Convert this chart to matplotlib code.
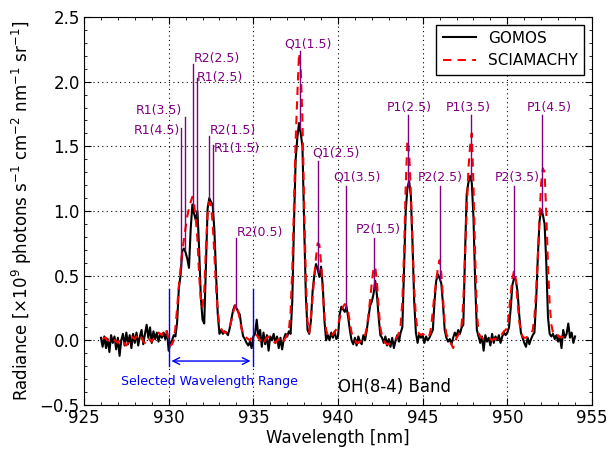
import matplotlib
matplotlib.use('Agg')
import matplotlib.pyplot as plt
from matplotlib.ticker import MultipleLocator
import numpy as np

# GOMOS spectrum, 926.0 .. 954.0 nm, 0.1 nm step
gomos_start, gomos_step = 926.0, 0.1
gomos = [
    0.02, -0.05, 0.03, -0.06, 0.01, -0.09, 0.04, -0.02, 0.03, -0.07,
    0.02, -0.12, 0.00, 0.05, -0.04, 0.06, -0.03, 0.04, -0.06, 0.05,
    -0.02, 0.06, -0.04, 0.03, 0.08, -0.03, 0.05, 0.12, 0.02, 0.10,
    -0.02, 0.07, 0.01, 0.06, -0.01, 0.05, 0.02, 0.06, 0.01, 0.07,
    -0.08, -0.02, 0.00, 0.04, 0.03, 0.14, 0.40, 0.50, 0.69, 0.71,
    0.68, 0.63, 0.56, 0.86, 1.05, 0.98, 0.93, 1.00, 0.70, 0.33,
    0.16, 0.13, 0.58, 1.02, 1.10, 1.07, 1.05, 0.85, 0.51, 0.20,
    0.05, 0.08, 0.05, 0.07, 0.06, 0.04, 0.09, 0.16, 0.23, 0.27,
    0.25, 0.22, 0.20, 0.10, 0.03, 0.01, -0.02, -0.04, -0.01, -0.06,
    0.03, 0.05, 0.16, 0.02, 0.08, -0.05, 0.06, -0.03, 0.04, -0.08,
    0.03, 0.00, 0.05, -0.02, 0.03, -0.06, 0.02, -0.07, 0.01, 0.05,
    0.03, 0.07, 0.05, 0.30, 0.90, 1.40, 1.57, 1.68, 1.60, 1.50,
    0.90, 0.35, 0.08, 0.05, 0.15, 0.38, 0.50, 0.59, 0.55, 0.49,
    0.57, 0.42, 0.15, 0.00, 0.04, 0.00, 0.06, 0.02, 0.07, 0.01,
    0.03, 0.20, 0.26, 0.24, 0.22, 0.26, 0.18, 0.08, 0.00, -0.03,
    0.02, -0.04, 0.03, -0.01, -0.03, 0.04, 0.00, 0.08, 0.18, 0.27,
    0.30, 0.36, 0.46, 0.35, 0.18, 0.04, 0.02, -0.02, 0.03, -0.04,
    0.01, -0.05, 0.02, -0.06, 0.00, 0.04, -0.01, 0.06, 0.10, 0.55,
    1.00, 1.18, 1.23, 1.12, 0.75, 0.30, 0.06, -0.02, 0.05, 0.02,
    0.04, -0.02, 0.03, 0.00, 0.02, 0.05, 0.08, 0.30, 0.46, 0.51,
    0.48, 0.44, 0.28, 0.08, 0.02, -0.01, 0.01, -0.03, 0.02, 0.06,
    0.03, 0.08, 0.05, 0.10, 0.12, 0.66, 1.13, 1.22, 1.27, 1.22,
    0.95, 0.45, 0.08, 0.03, -0.02, 0.03, -0.08, 0.04, -0.01, 0.02,
    -0.04, 0.05, -0.02, 0.03, 0.00, 0.04, -0.02, 0.03, 0.06, 0.04,
    0.06, 0.10, 0.25, 0.43, 0.48, 0.47, 0.38, 0.20, 0.06, 0.02,
    -0.02, -0.05, 0.02, -0.03, 0.01, 0.04, 0.06, 0.30, 0.64, 0.92,
    1.01, 0.97, 0.90, 0.60, 0.18, 0.05, 0.03, 0.05, 0.01, 0.04,
    -0.01, 0.03, -0.06, 0.08, 0.02, 0.05, 0.13, 0.02, 0.06, -0.02,
    0.03,
]

# SCIAMACHY spectrum, 926.1 .. 953.5 nm, 0.1 nm step
scia_start, scia_step = 926.1, 0.1
scia = [
    0.01, 0.02, 0.02, 0.00, -0.01, 0.00, 0.01, 0.00, -0.01,
    -0.02, 0.00, 0.01, 0.00, -0.03, -0.04, -0.02, 0.01, 0.03, 0.02,
    0.01, 0.03, 0.05, 0.04, 0.02, -0.01, -0.02, 0.00, 0.02, 0.00,
    -0.01, 0.01, 0.03, 0.05, 0.06, 0.05, 0.04, 0.07, 0.09, 0.06,
    0.00, -0.04, -0.03, 0.00, 0.10, 0.25, 0.42, 0.55, 0.68, 0.78,
    0.87, 0.96, 1.02, 1.07, 1.11, 1.06, 0.94, 0.78, 0.50, 0.32,
    0.26, 0.38, 0.72, 0.98, 1.07, 1.05, 0.90, 0.66, 0.40, 0.22,
    0.12, 0.09, 0.07, 0.06, 0.06, 0.07, 0.10, 0.15, 0.21, 0.26,
    0.28, 0.23, 0.16, 0.09, 0.05, 0.03, 0.02, 0.01, 0.00, 0.02,
    0.04, 0.05, 0.04, 0.02, 0.00, -0.03, -0.02, 0.00, 0.02, 0.03,
    0.01, 0.00, -0.01, -0.02, 0.00, 0.01, -0.01, -0.02, 0.00, 0.02,
    0.04, 0.08, 0.22, 0.55, 1.05, 1.55, 1.90, 2.22, 2.10, 1.70,
    1.05, 0.48, 0.15, 0.06, 0.18, 0.33, 0.50, 0.64, 0.75, 0.74,
    0.60, 0.38, 0.18, 0.08, 0.04, 0.02, 0.03, 0.05, 0.06, 0.09,
    0.12, 0.17, 0.22, 0.26, 0.28, 0.27, 0.22, 0.14, 0.06, 0.02,
    0.00, -0.02, -0.02, -0.01, 0.00, 0.01, 0.04, 0.10, 0.20, 0.32,
    0.45, 0.56, 0.57, 0.45, 0.25, 0.10, 0.03, 0.00, -0.02, -0.03,
    -0.03, -0.02, -0.01, 0.00, 0.01, 0.03, 0.06, 0.12, 0.30, 0.68,
    1.20, 1.55, 1.45, 1.15, 0.75, 0.40, 0.18, 0.07, 0.05, 0.04,
    0.05, 0.04, 0.03, 0.02, 0.04, 0.10, 0.23, 0.36, 0.46, 0.56,
    0.62, 0.52, 0.32, 0.13, 0.05, 0.02, -0.01, -0.03, -0.06, -0.02,
    0.02, 0.04, 0.07, 0.12, 0.30, 0.66, 1.00, 1.32, 1.50, 1.60,
    1.20, 0.66, 0.22, 0.06, 0.03, 0.02, 0.01, 0.01, 0.02, 0.02,
    0.01, 0.00, 0.01, 0.01, 0.02, 0.02, 0.03, 0.05, 0.07, 0.08,
    0.10, 0.22, 0.36, 0.48, 0.54, 0.47, 0.30, 0.15, 0.06, 0.03,
    0.02, 0.02, 0.03, 0.04, 0.05, 0.08, 0.18, 0.38, 0.65, 0.95,
    1.22, 1.33, 1.30, 0.98, 0.58, 0.28, 0.12, 0.06, 0.04, 0.03,
    0.04, 0.02, 0.03, 0.02, 0.03, 0.02,
]

# line identifications: name, line position, top of marker line
line_names = ['R1(4.5)', 'R1(3.5)', 'R2(2.5)', 'R1(2.5)', 'R2(1.5)', 'R1(1.5)',
              'R2(0.5)', 'Q1(1.5)', 'Q1(2.5)', 'Q1(3.5)', 'P2(1.5)', 'P1(2.5)',
              'P2(2.5)', 'P1(3.5)', 'P2(3.5)', 'P1(4.5)']
line_pos = [930.73, 930.94, 931.42, 931.65, 932.40, 932.62, 933.99, 937.76,
            938.84, 940.45, 942.14, 944.12, 946.03, 947.84, 950.41, 952.07]
line_top = [1.64, 1.73, 2.14, 2.03, 1.58, 1.51, 0.79, 2.24,
            1.39, 1.19, 0.79, 1.74, 1.19, 1.74, 1.19, 1.74]
# where the label text sits
label_x = [930.67, 930.77, 931.46, 931.66, 932.41, 932.65, 934.02, 938.23,
           939.88, 941.13, 942.37, 944.20, 946.03, 947.68, 950.58, 952.47]
label_y = [1.625, 1.78, 2.18, 2.03, 1.625, 1.48, 0.83, 2.29,
           1.45, 1.26, 0.86, 1.80, 1.26, 1.80, 1.26, 1.80]
label_ha = ['right', 'right', 'left', 'left', 'left', 'left', 'left', 'center',
            'center', 'center', 'center', 'center', 'center', 'center', 'center', 'center']

sel_range = [930, 935]

plt.rcParams['font.size'] = 12

wl_g = gomos_start + gomos_step * np.arange(len(gomos))
wl_s = scia_start + scia_step * np.arange(len(scia))

fig = plt.figure(figsize=(6.08, 4.49), dpi=100)
ax = fig.add_axes([84/608, 1 - 405/449, (592 - 84)/608, (405 - 17)/449])

ax.plot(wl_g, gomos, color='black', lw=1.5, label='GOMOS')
ax.plot(wl_s, scia, color='red', lw=1.5, ls='--', dashes=(4, 3), label='SCIAMACHY')

for i in range(len(line_names)):
    bottom = np.interp(line_pos[i], wl_g, gomos)
    ax.plot([line_pos[i], line_pos[i]], [bottom, line_top[i]], color='purple', lw=1)
    ax.text(label_x[i], label_y[i], line_names[i], color='purple', fontsize=9,
            ha=label_ha[i], va='center')

for x in sel_range:
    ax.plot([x, x], [-0.2, 0.4], color='blue', lw=1)
ax.annotate('', xy=(sel_range[0], -0.16), xytext=(sel_range[1], -0.16),
            arrowprops=dict(arrowstyle='<->', color='blue', lw=1))
ax.text(np.mean(sel_range) - 0.08, -0.32, 'Selected Wavelength Range', color='blue',
        fontsize=9, ha='center', va='center')
ax.text(940.0, -0.36, 'OH(8-4) Band', fontsize=12, ha='left', va='center')

ax.set_xlim(925, 955)
ax.set_ylim(-0.5, 2.5)
ax.xaxis.set_major_locator(MultipleLocator(5))
ax.xaxis.set_minor_locator(MultipleLocator(1))
ax.yaxis.set_major_locator(MultipleLocator(0.5))
ax.yaxis.set_minor_locator(MultipleLocator(0.1))
ax.tick_params(which='both', direction='in', top=True, right=True, pad=3)
ax.tick_params(which='major', length=5)
ax.tick_params(which='minor', length=2.5)
ax.grid(True, which='major', color='black', ls=(0, (1, 3)), lw=0.8)

ax.set_xlabel('Wavelength [nm]', labelpad=1)
ax.set_ylabel(r'Radiance [$\times10^9$ photons s$^{-1}$ cm$^{-2}$ nm$^{-1}$ sr$^{-1}$]')

leg = ax.legend(loc='upper right', fontsize=11, fancybox=False, framealpha=1,
                edgecolor='black', handlelength=2.2)
leg.get_frame().set_linewidth(1)

fig.savefig('out.png', dpi=100)
